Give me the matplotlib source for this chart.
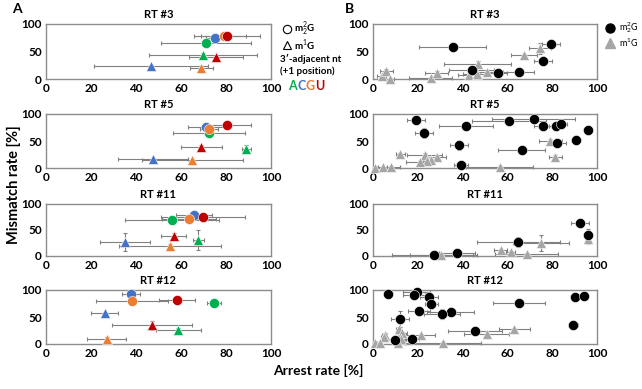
import matplotlib
matplotlib.use("Agg")
import matplotlib.pyplot as plt

plt.rcParams['font.family'] = ['Lato', 'DejaVu Sans']
plt.rcParams['mathtext.fontset'] = 'custom'
plt.rcParams['mathtext.rm'] = 'Lato'
plt.rcParams['mathtext.bf'] = 'Lato:bold'

# ---------------- Data ----------------
rt_titles = ["RT #3", "RT #5", "RT #11", "RT #12"]
nt_labels = ["A", "C", "G", "U"]
nt_colors = ["#00B050", "#4472C4", "#ED7D31", "#C00000"]

# Panel A: per RT, values in order A, C, G, U
a3_circ_x = [71.1, 75.2, 79.0, 80.4]
a3_circ_y = [64.6, 74.4, 78.0, 78.7]
a3_circ_xerr = [20, 4, 10, 14.5]
a3_circ_yerr = [3, 3, 3, 3]
a3_tri_x = [69.6, 46.7, 69.1, 75.7]
a3_tri_y = [43.9, 23.8, 20.7, 39.6]
a3_tri_xerr = [24, 25.4, 5, 12]
a3_tri_yerr = [3, 2, 3, 2]

a5_circ_x = [72.3, 71.2, 72.6, 80.4]
a5_circ_y = [65.2, 75.3, 72.8, 79.7]
a5_circ_xerr = [16, 8, 4, 10.5]
a5_circ_yerr = [3, 4, 3, 2]
a5_tri_x = [89.0, 47.5, 65.0, 69.0]
a5_tri_y = [36, 15.8, 14, 38]
a5_tri_xerr = [2, 15.6, 22.5, 9]
a5_tri_yerr = [7, 3, 2, 5]

a11_circ_x = [56.0, 65.6, 63.6, 69.6]
a11_circ_y = [69, 78, 70.3, 74.2]
a11_circ_xerr = [21, 8, 12, 18.7]
a11_circ_yerr = [5, 3, 4, 7]
a11_tri_x = [67.7, 35.2, 55.2, 56.7]
a11_tri_y = [31, 26.5, 19.4, 39.4]
a11_tri_xerr = [2.5, 11, 22.6, 5.4]
a11_tri_yerr = [19, 17, 4, 5]

a12_circ_x = [74.6, 37.8, 38.0, 58.3]
a12_circ_y = [75.3, 93.2, 80.2, 80.9]
a12_circ_xerr = [3, 4, 16, 8]
a12_circ_yerr = [5, 3, 5, 6]
a12_tri_x = [58.8, 26.1, 26.9, 47.0]
a12_tri_y = [26.4, 57, 9.9, 34.6]
a12_tri_xerr = [10, 6, 8.5, 17.7]
a12_tri_yerr = [4, 3, 3, 8]

# Panel B
b3_m22g_x = [35.5, 79.3, 76.0, 44.0, 56.0, 65.0]
b3_m22g_y = [58, 64, 33, 16, 10.5, 13]
b3_m22g_xerr = [15, 4, 4, 10, 4, 7]
b3_m22g_yerr = [5, 3, 3, 3, 2, 2]
b3_m1g_x = [4, 6, 7.5, 25.7, 28.4, 42.8, 46.7, 46.4, 51, 67.4, 74.5]
b3_m1g_y = [5.6, 14.8, 0.6, 2.5, 11.7, 6.8, 27, 8.6, 13.6, 43, 55.5]
b3_m1g_xerr = [2, 3, 2, 9.5, 5, 5, 15, 6, 6, 6, 5]
b3_m1g_yerr = [2, 3, 1, 2, 3, 2, 5, 2, 2, 3, 10]

b5_m22g_x = [19.3, 22.7, 41.6, 60.6, 71.8, 76, 81.7, 83.8, 96.2, 90.6, 82.2, 38.3, 66.5, 39.2]
b5_m22g_y = [89.2, 65.2, 78.5, 87.3, 89.9, 77.8, 77.8, 81.6, 70.3, 51.9, 46.8, 41.8, 34.2, 6.3]
b5_m22g_xerr = [4, 4, 12, 16.5, 18.5, 4, 3, 3, 1, 1, 4, 4, 10.5, 3]
b5_m22g_yerr = [3, 9, 4, 3, 3, 3, 3, 3, 8, 2, 6, 8, 2, 2]
b5_m1g_x = [79.2, 81.4, 56.6, 12.1, 23.0, 28.6, 26.0, 23.9, 20.9, 1.0, 4.4, 8.1]
b5_m1g_y = [50.6, 20.3, 2.5, 25.3, 24.0, 20.9, 13.9, 13.3, 10.8, 0.5, 1.3, 1.9]
b5_m1g_xerr = [5, 3, 15, 2, 8, 4, 4, 3, 6, 1, 2, 4]
b5_m1g_yerr = [3, 3, 1, 3, 3, 2, 2, 2, 2, 1, 1, 1]

b11_m22g_x = [92.5, 95.9, 64.9, 37.6, 27.3]
b11_m22g_y = [64.3, 39.6, 26.6, 5.8, 1.3]
b11_m22g_xerr = [4, 1, 18.6, 8, 19]
b11_m22g_yerr = [5, 12, 10, 2, 1]
b11_m1g_x = [74.8, 95.9, 57.0, 61.5, 68.6, 30.5]
b11_m1g_y = [25.3, 31.8, 11, 7.8, 4.5, 2.6]
b11_m1g_xerr = [12.5, 1, 3, 2, 14, 14]
b11_m1g_yerr = [15, 8, 3, 2, 2, 1]

b12_m22g_x = [6.5, 19.5, 18.3, 24.9, 26.1, 65.2, 90.3, 94.4, 20.5, 34.7, 30.8, 12.1, 89.5, 45.6, 17.4, 9.7]
b12_m22g_y = [93.1, 96.2, 91.2, 87.5, 73.7, 76.2, 87.5, 88.7, 60.6, 58.7, 55, 46.2, 34.4, 24.4, 10, 6.9]
b12_m22g_xerr = [1, 6, 5, 4, 3, 11.6, 1, 1, 5, 10.5, 8, 4, 2, 12, 3, 4]
b12_m22g_yerr = [2, 3, 3, 3, 3, 2, 4, 2, 2, 2, 9, 15, 2, 2, 2, 2]
b12_m1g_x = [63.1, 50.7, 11.4, 13.1, 21.4, 5.2, 4.7, 12.7, 31.3, 1.0, 3.0, 11.0]
b12_m1g_y = [28.1, 18.8, 28.1, 20, 16.3, 17.5, 13, 8.8, 2.5, 1.2, 1.2, 1.2]
b12_m1g_xerr = [7, 10, 1, 2, 6.5, 1, 1, 2, 17, 1, 1, 1]
b12_m1g_yerr = [2, 2, 4, 3, 2, 2, 2, 2, 1, 1, 1, 1]

x_ticks = [0, 20, 40, 60, 80, 100]
y_ticks = [0, 50, 100]

A_data = [
    (a3_circ_x, a3_circ_y, a3_circ_xerr, a3_circ_yerr, a3_tri_x, a3_tri_y, a3_tri_xerr, a3_tri_yerr),
    (a5_circ_x, a5_circ_y, a5_circ_xerr, a5_circ_yerr, a5_tri_x, a5_tri_y, a5_tri_xerr, a5_tri_yerr),
    (a11_circ_x, a11_circ_y, a11_circ_xerr, a11_circ_yerr, a11_tri_x, a11_tri_y, a11_tri_xerr, a11_tri_yerr),
    (a12_circ_x, a12_circ_y, a12_circ_xerr, a12_circ_yerr, a12_tri_x, a12_tri_y, a12_tri_xerr, a12_tri_yerr),
]
B_data = [
    (b3_m22g_x, b3_m22g_y, b3_m22g_xerr, b3_m22g_yerr, b3_m1g_x, b3_m1g_y, b3_m1g_xerr, b3_m1g_yerr),
    (b5_m22g_x, b5_m22g_y, b5_m22g_xerr, b5_m22g_yerr, b5_m1g_x, b5_m1g_y, b5_m1g_xerr, b5_m1g_yerr),
    (b11_m22g_x, b11_m22g_y, b11_m22g_xerr, b11_m22g_yerr, b11_m1g_x, b11_m1g_y, b11_m1g_xerr, b11_m1g_yerr),
    (b12_m22g_x, b12_m22g_y, b12_m22g_xerr, b12_m22g_yerr, b12_m1g_x, b12_m1g_y, b12_m1g_xerr, b12_m1g_yerr),
]

# ---------------- Figure ----------------
W, H = 642, 389
fig = plt.figure(figsize=(W / 100, H / 100), dpi=100)

rows_px = [(24, 79), (114, 168), (204, 256), (290, 344)]
colA_px = (46, 271)
colB_px = (373, 597)

ERR_COLOR = "#808080"
SPINE_COLOR = "#8c8c8c"


def make_ax(col, row):
    l, r = col
    t, b = rows_px[row]
    ax = fig.add_axes([l / W, 1 - b / H, (r - l) / W, (b - t) / H])
    ax.set_xlim(0, 100)
    ax.set_ylim(0, 100)
    ax.set_xticks(x_ticks)
    ax.set_yticks(y_ticks)
    ax.tick_params(length=0, labelsize=8.5, pad=3)
    for lab in ax.get_xticklabels() + ax.get_yticklabels():
        lab.set_fontweight('bold')
    for s in ax.spines.values():
        s.set_color(SPINE_COLOR)
        s.set_linewidth(1.0)
    ax.set_title(rt_titles[row], fontsize=8, fontweight='bold', pad=4)
    return ax


def errs(ax, x, y, xe, ye):
    ax.errorbar(x, y, xerr=xe, yerr=ye, fmt='none', ecolor=ERR_COLOR,
                elinewidth=0.8, capsize=1.6, capthick=0.8, zorder=2, clip_on=False)


for i, d in enumerate(A_data):
    ax = make_ax(colA_px, i)
    cx, cy, cxe, cye, tx, ty, txe, tye = d
    errs(ax, cx, cy, cxe, cye)
    errs(ax, tx, ty, txe, tye)
    for k in range(4):
        ax.plot(tx[k], ty[k], marker='^', ms=6.8, color=nt_colors[k],
                mec='white', mew=0.4, ls='none', zorder=3, clip_on=False)
    for k in range(4):
        ax.plot(cx[k], cy[k], marker='o', ms=7.3, color=nt_colors[k],
                mec='white', mew=0.4, ls='none', zorder=3, clip_on=False)

for i, d in enumerate(B_data):
    ax = make_ax(colB_px, i)
    cx, cy, cxe, cye, tx, ty, txe, tye = d
    errs(ax, tx, ty, txe, tye)
    errs(ax, cx, cy, cxe, cye)
    ax.plot(tx, ty, marker='^', ms=6.8, color='#A6A6A6', mec='white', mew=0.4,
            ls='none', zorder=3, clip_on=False)
    ax.plot(cx, cy, marker='o', ms=7.3, color='black', mec='white', mew=0.4,
            ls='none', zorder=4, clip_on=False)

# Panel letters
fig.text(12 / W, 1 - 9 / H, "A", fontsize=10, fontweight='bold', ha='left', va='center')
fig.text(345 / W, 1 - 9 / H, "B", fontsize=10, fontweight='bold', ha='left', va='center')

# Axis labels
fig.text(14 / W, 1 - 185 / H, "Mismatch rate [%]", rotation=90, fontsize=10.5,
         fontweight='bold', ha='center', va='center')
fig.text(318 / W, 1 - 370 / H, "Arrest rate [%]", fontsize=10,
         fontweight='bold', ha='center', va='center')

# Legend panel A
la = fig.add_axes([0, 0, 1, 1], facecolor='none')
la.set_xlim(0, W)
la.set_ylim(H, 0)
la.axis('off')
la.plot([287], [29], marker='o', ms=6, mfc='white', mec='black', mew=0.8)
la.text(294, 29, r"m$^2_2$G", fontsize=7, fontweight='bold', va='center')
la.plot([287], [45], marker='^', ms=6, mfc='white', mec='black', mew=0.8)
la.text(294, 45.5, r"m$^1$G", fontsize=7, fontweight='bold', va='center')
la.text(280, 58.5, "3\u2032-adjacent nt", fontsize=7, fontweight='bold', va='center')
la.text(280, 71, "(+1 position)", fontsize=7, fontweight='bold', va='center')
xpos = 288
for lab, col in zip(nt_labels, nt_colors):
    la.text(xpos, 86, lab, fontsize=9, fontweight='bold', color=col, va='center')
    xpos += 9

# Legend panel B
la.plot([610], [27.5], marker='o', ms=6.5, color='black', ls='none')
la.text(619, 27.5, r"m$^2_2$G", fontsize=6.5, va='center')
la.plot([610], [43], marker='^', ms=6.5, color='#A6A6A6', ls='none')
la.text(619, 43, r"m$^1$G", fontsize=6.5, va='center')

fig.savefig("out.png", dpi=100)
